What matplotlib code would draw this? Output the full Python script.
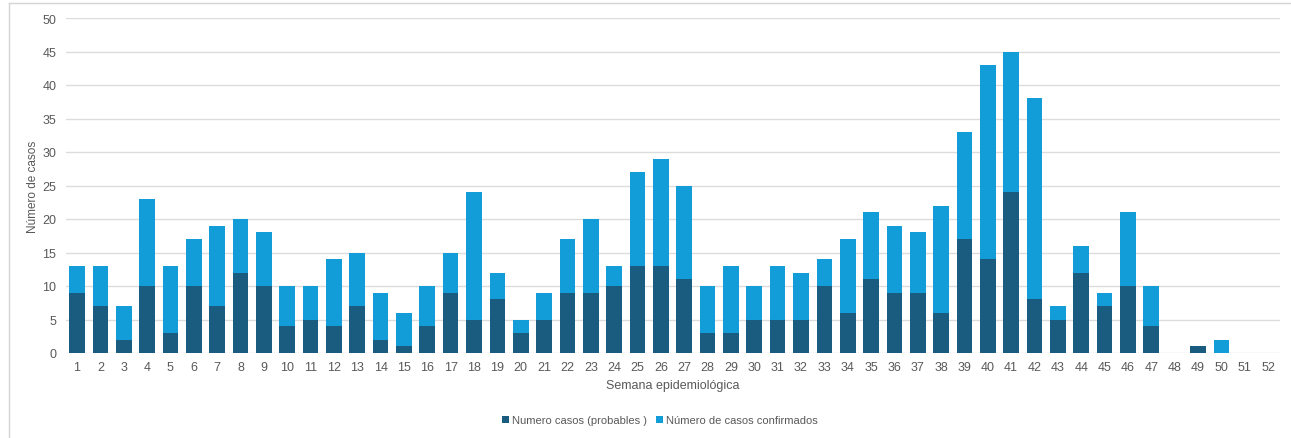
import matplotlib
matplotlib.use("Agg")
import matplotlib.pyplot as plt
from matplotlib.lines import Line2D
from matplotlib.patches import Patch
import numpy as np

plt.rcParams['font.family'] = ['Liberation Sans', 'DejaVu Sans']

weeks = list(range(1, 53))
probables = [9, 7, 2, 10, 3, 10, 7, 12, 10, 4, 5, 4, 7, 2, 1, 4, 9, 5, 8, 3,
             5, 9, 9, 10, 13, 13, 11, 3, 3, 5, 5, 5, 10, 6, 11, 9, 9, 6, 17, 14,
             24, 8, 5, 12, 7, 10, 4, 0, 1, 0, 0, 0]
confirmados = [4, 6, 5, 13, 10, 7, 12, 8, 8, 6, 5, 10, 8, 7, 5, 6, 6, 19, 4, 2,
               4, 8, 11, 3, 14, 16, 14, 7, 10, 5, 8, 7, 4, 11, 10, 10, 9, 16, 16, 29,
               21, 30, 2, 4, 2, 11, 6, 0, 0, 2, 0, 0]

dark = '#195c80'
light = '#139dd8'
text_col = '#595959'

W, H = 1291, 439
fig = plt.figure(figsize=(W / 100, H / 100), dpi=100)

# light frame along the top and left edges
frame_kw = dict(transform=fig.transFigure, color='#d4d4d4', linewidth=1.0)
fig.add_artist(Line2D([9 / W, 1.0], [1 - 4 / H, 1 - 4 / H], **frame_kw))
fig.add_artist(Line2D([9 / W, 9 / W], [0.0, 1 - 4 / H], **frame_kw))

ax = fig.add_axes([66 / W, 1 - 354 / H, (1280 - 66) / W, (354 - 19) / H])

x = np.array(weeks)
ax.bar(x, probables, width=0.67, color=dark, zorder=3,
       label='Numero casos (probables )')
ax.bar(x, confirmados, width=0.67, bottom=probables, color=light, zorder=3,
       label='Número de casos confirmados')

ax.set_xlim(0.53, 52.51)
ax.set_ylim(0, 50)
ax.set_yticks(range(0, 51, 5))
ax.set_xticks(weeks)
ax.set_xticklabels([str(w) for w in weeks])
ax.yaxis.grid(True, color='#dcdcdc', linewidth=1.0, zorder=0)
ax.set_axisbelow(True)
for s in ax.spines.values():
    s.set_visible(False)
ax.tick_params(axis='both', length=0, labelsize=9, colors=text_col)
ax.tick_params(axis='y', pad=7)
ax.tick_params(axis='x', pad=6)

ax.set_ylabel('Número de casos', fontsize=8.5, color=text_col, labelpad=2)
ax.set_xlabel('Semana epidemiológica', fontsize=9, color=text_col, labelpad=4)

handles = [Patch(facecolor=dark), Patch(facecolor=light)]
fig.legend(handles, ['Numero casos (probables )', 'Número de casos confirmados'],
           loc='center', bbox_to_anchor=(660 / W, 1 - 421 / H), ncol=2,
           frameon=False, fontsize=8, handlelength=0.6, handleheight=0.6,
           handletextpad=0.3, columnspacing=0.8, labelcolor=text_col)

fig.savefig('out.png', dpi=100)
